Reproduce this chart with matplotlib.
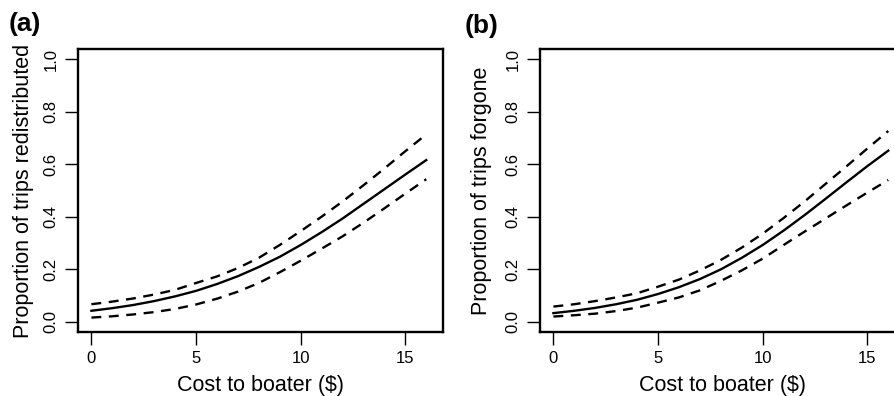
import matplotlib
matplotlib.use("Agg")
import matplotlib.pyplot as plt

plt.rcParams['font.family'] = ['Liberation Sans', 'DejaVu Sans']

# --- data ---
cost = [0, 1, 2, 3, 4, 5, 6, 7, 8, 9, 10, 11, 12, 13, 14, 15, 16]

# (a) proportion of trips redistributed
redis_fit = [0.041, 0.051, 0.063, 0.078, 0.096, 0.117, 0.143, 0.173, 0.208,
             0.247, 0.292, 0.341, 0.393, 0.449, 0.505, 0.561, 0.616]
redis_hi = [0.066, 0.076, 0.088, 0.103, 0.121, 0.147, 0.172, 0.204, 0.243,
            0.292, 0.345, 0.400, 0.458, 0.520, 0.584, 0.650, 0.714]
redis_lo = [0.015, 0.020, 0.027, 0.036, 0.048, 0.065, 0.087, 0.114, 0.147,
            0.188, 0.232, 0.278, 0.325, 0.377, 0.432, 0.488, 0.543]

# (b) proportion of trips forgone
forg_fit = [0.032, 0.041, 0.052, 0.066, 0.083, 0.105, 0.131, 0.162, 0.199,
            0.243, 0.292, 0.347, 0.406, 0.468, 0.531, 0.593, 0.652]
forg_hi = [0.057, 0.066, 0.078, 0.092, 0.108, 0.133, 0.160, 0.195, 0.235,
           0.282, 0.335, 0.395, 0.458, 0.525, 0.592, 0.660, 0.727]
forg_lo = [0.019, 0.024, 0.030, 0.040, 0.053, 0.072, 0.092, 0.119, 0.155,
           0.195, 0.240, 0.292, 0.343, 0.393, 0.443, 0.492, 0.540]

x_ticks = [0, 5, 10, 15]
y_ticks = [0.0, 0.2, 0.4, 0.6, 0.8, 1.0]

panels = [
    ("(a)", "Proportion of trips redistributed", redis_fit, redis_hi, redis_lo),
    ("(b)", "Proportion of trips forgone", forg_fit, forg_hi, forg_lo),
]

W, H = 894, 396
fig = plt.figure(figsize=(W / 100, H / 100), dpi=100)

# axes boxes in pixels: left, top, right, bottom
boxes = [(78, 49, 443, 332), (540, 49, 905, 332)]
ylab_x = [-0.148, -0.160]
tag_pos = [(25, 24), (482, 26)]

for i, (tag, ylab, fit, hi, lo) in enumerate(panels):
    l, t, r, b = boxes[i]
    ax = fig.add_axes([l / W, 1 - b / H, (r - l) / W, (b - t) / H])
    ax.plot(cost, fit, color='black', lw=1.7)
    ax.plot(cost, hi, color='black', lw=1.7, dashes=(4.2, 3.2))
    ax.plot(cost, lo, color='black', lw=1.7, dashes=(4.2, 3.2))

    ax.set_xlim(-0.64, 16.8)
    ax.set_ylim(-0.04, 1.04)
    ax.set_xticks(x_ticks)
    ax.set_yticks(y_ticks)
    ax.set_xticklabels([str(v) for v in x_ticks])
    ax.set_yticklabels([f"{v:.1f}" for v in y_ticks])
    for s in ax.spines.values():
        s.set_linewidth(1.7)
    ax.tick_params(length=9.5, width=1.0, labelsize=12, pad=4.5)
    for lab in ax.get_yticklabels():
        lab.set_rotation(90)
        lab.set_va('center')
        lab.set_ha('right')

    ax.set_xlabel("Cost to boater ($)", fontsize=15.5)
    ax.xaxis.label.set_va('baseline')
    ax.xaxis.set_label_coords(0.5, -0.207)
    ax.set_ylabel(ylab, fontsize=15.5)
    ax.yaxis.label.set_va('center')
    ax.yaxis.set_label_coords(ylab_x[i], 0.5)

    fig.text(tag_pos[i][0] / W, 1 - tag_pos[i][1] / H, tag, fontsize=19,
             fontweight='bold', ha='center', va='center')

fig.savefig("out.png", dpi=100)
